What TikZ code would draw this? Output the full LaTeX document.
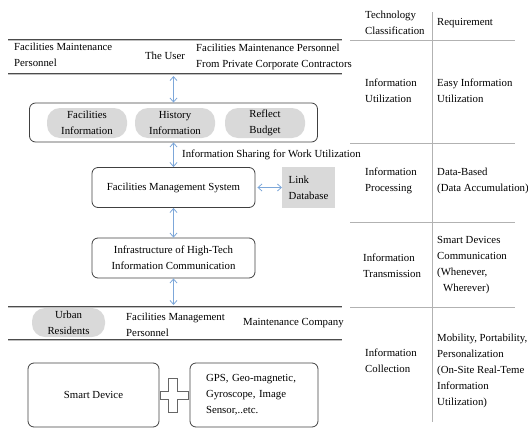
\documentclass[tikz,border=0pt]{standalone}
\usepackage{fontspec}
\setmainfont{Liberation Serif}
\usetikzlibrary{arrows.meta}
\definecolor{arrowblue}{HTML}{7DA7D9}
\definecolor{pillgray}{HTML}{D9D9D9}
\begin{document}
\begin{tikzpicture}[x=1pt,y=-1pt,
  every node/.style={font=\fontsize{10.8}{16}\selectfont, inner sep=0pt},
  box/.style={draw=black!75, line width=0.8pt, rounded corners=6pt, align=center},
  pill/.style={fill=pillgray, rounded corners=13pt, align=center},
  dbl/.style={{Straight Barb[length=4pt,width=7pt]}-{Straight Barb[length=4pt,width=7pt]}, draw=arrowblue, line width=0.8pt},
  band/.style={draw=black!70, line width=0.9pt},
  bandshade/.style={draw=black!25, line width=0.9pt},
  tline/.style={draw=black!30, line width=0.8pt},
  txt/.style={align=left, anchor=west},
]
\useasboundingbox (0,0) rectangle (528,429);

% top band
\draw[bandshade] (8,40.5) -- (342,40.5);
\draw[band] (8,39) -- (342,39);
\draw[bandshade] (8,74.5) -- (342,74.5);
\draw[band] (8,73) -- (342,73);
\node[txt] (fmp) at (14,55) {Facilities Maintenance\\Personnel};
\node (user) at (165,56) {The User};
\node[txt] (fmpc) at (196,57) {Facilities Maintenance Personnel\\From Private Corporate Contractors};
\coordinate (ubot) at (173.5,76);

% info box
\node[box, minimum width=288pt, minimum height=39pt] (info) at (173.5,122.5) {};
\node[pill, minimum width=80pt, minimum height=30pt] (finfo) at (87,123) {Facilities\\Information};
\node[pill, minimum width=80pt, minimum height=30pt] (hinfo) at (175,123) {History\\Information};
\node[pill, minimum width=80pt, minimum height=30pt] (rbud) at (265,123) {Reflect\\Budget};

% management system
\node[box, minimum width=163pt, minimum height=40pt] (fms) at (173.5,187.5) {Facilities Management System};
\node[fill=pillgray, align=left, inner xsep=6.5pt, minimum height=41pt] (link) at (308.5,187.5) {Link\\Database};
\node[txt] (share) at (182,155) {Information Sharing for Work Utilization};

% infrastructure
\node[box, minimum width=163pt, minimum height=40pt] (infra) at (173.5,258) {Infrastructure of High-Tech\\Information Communication};
\coordinate (btop) at (173.5,305);

% arrows
\draw[dbl] (ubot) -- (info.north);
\draw[dbl] (info.south) -- (fms.north);
\draw[dbl] ([xshift=2pt]fms.east) -- (link.west);
\draw[dbl] (fms.south) -- (infra.north);
\draw[dbl] (infra.south) -- (btop);

% bottom band
\draw[bandshade] (8,307.5) -- (342,307.5);
\draw[band] (8,306) -- (342,306);
\draw[bandshade] (8,340.5) -- (342,340.5);
\draw[band] (8,339) -- (342,339);
\node[pill, minimum width=73pt, minimum height=29pt] (urban) at (68.5,322.5) {Urban\\Residents};
\node[txt] (fmper) at (126,325) {Facilities Management\\Personnel};
\node[txt] (mco) at (243,323) {Maintenance Company};

% smart device
\node[box, minimum width=131pt, minimum height=64pt] (smart) at (93.5,395) {Smart Device};
\node[box, minimum width=128pt, minimum height=64pt, text width=96pt, align=left] (gps) at (254,395) {GPS, Geo-magnetic,\\Gyroscope, Image\\Sensor,..etc.};
\draw[draw=black!60, line width=0.8pt, fill=white]
  (168.5,378) -- (177.5,378) -- (177.5,391) -- (188,391) -- (188,399) -- (177.5,399)
  -- (177.5,412) -- (168.5,412) -- (168.5,399) -- (160,399) -- (160,391) -- (168.5,391) -- cycle;

% table
\draw[tline] (432,12) -- (432,422);
\draw[tline] (350,40) -- (515,40);
\draw[tline] (350,143) -- (515,143);
\draw[tline] (350,222) -- (515,222);
\draw[tline] (350,307) -- (515,307);
\node[txt] (th1) at (365,23) {Technology\\Classification};
\node[txt] (th2) at (437,23) {Requirement};
\node[txt] (c1) at (365,91) {Information\\Utilization};
\node[txt] (r1) at (437,91) {Easy Information\\Utilization};
\node[txt] (c2) at (365,181) {Information\\Processing};
\node[txt] (r2) at (437,181) {Data-Based\\(Data Accumulation)};
\node[txt] (c3) at (363,266) {Information\\Transmission};
\node[txt] (r3) at (437,265) {Smart Devices\\Communication\\(Whenever,\\\hspace{6pt}Wherever)};
\node[txt] (c4) at (365,361) {Information\\Collection};
\node[txt] (r4) at (437,371) {Mobility, Portability,\\Personalization\\(On-Site Real-Teme\\Information\\Utilization)};
\end{tikzpicture}
\end{document}
